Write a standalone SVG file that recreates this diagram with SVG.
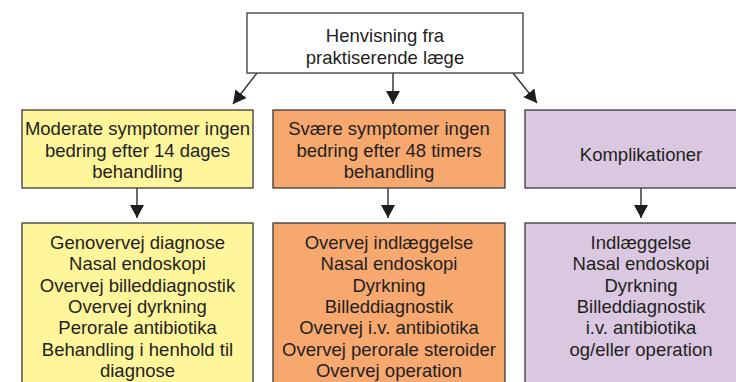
<svg xmlns="http://www.w3.org/2000/svg" width="736" height="382" viewBox="0 0 736 382">
  <style>
    .box { stroke: #3a3a3a; stroke-width: 1.3; }
    .white { fill: #ffffff; }
    .yellow { fill: #fff59b; }
    .orange { fill: #f7a86e; }
    .purple { fill: #d9c8e0; }
    text { font-family: "Liberation Sans", Arial, sans-serif; font-size: 18.5px; fill: #231f20; text-anchor: middle; }
    .conn { stroke: #3a3a3a; stroke-width: 1.5; fill: none; marker-end: url(#arrow); }
  </style>
  <defs>
    <marker id="arrow" markerUnits="userSpaceOnUse" markerWidth="15" markerHeight="15" refX="13" refY="7" orient="auto">
      <path d="M0,0 L13,7 L0,14 Z" fill="#1e1e1e"/>
    </marker>
  </defs>

  <rect width="736" height="382" fill="#ffffff"/>

  <!-- connectors -->
  <g id="connectors">
    <line class="conn" x1="257" y1="73" x2="233" y2="104"/>
    <line class="conn" x1="393" y1="73" x2="393" y2="104"/>
    <line class="conn" x1="513" y1="73" x2="537" y2="103"/>
    <line class="conn" x1="137" y1="188" x2="137" y2="218"/>
    <line class="conn" x1="388" y1="188" x2="388" y2="218"/>
    <line class="conn" x1="641" y1="188" x2="641" y2="218"/>
  </g>

  <!-- referral -->
  <g id="henvisning">
    <rect class="box white" x="247" y="13" width="276" height="60"/>
    <text x="385" y="42">Henvisning fra</text>
    <text x="385" y="64">praktiserende læge</text>
  </g>

  <!-- moderate symptoms -->
  <g id="moderate">
    <rect class="box yellow" x="22" y="110" width="231" height="78"/>
    <text x="137.5" y="135">Moderate symptomer ingen</text>
    <text x="137.5" y="157">bedring efter 14 dages</text>
    <text x="137.5" y="178">behandling</text>
  </g>

  <!-- severe symptoms -->
  <g id="svaere">
    <rect class="box orange" x="273" y="110" width="232" height="78"/>
    <text x="389" y="135">Svære symptomer ingen</text>
    <text x="389" y="157">bedring efter 48 timers</text>
    <text x="389" y="178">behandling</text>
  </g>

  <!-- complications -->
  <g id="komplikationer">
    <rect class="box purple" x="525" y="110" width="234" height="78"/>
    <text x="641" y="161">Komplikationer</text>
  </g>

  <!-- moderate actions -->
  <g id="moderate-tiltag">
    <rect class="box yellow" x="22" y="223" width="231" height="170"/>
    <text x="137.5" y="249">Genovervej diagnose</text>
    <text x="137.5" y="270.3">Nasal endoskopi</text>
    <text x="137.5" y="291.6">Overvej billeddiagnostik</text>
    <text x="137.5" y="312.9">Overvej dyrkning</text>
    <text x="137.5" y="334.2">Perorale antibiotika</text>
    <text x="137.5" y="355.5">Behandling i henhold til</text>
    <text x="137.5" y="376.8">diagnose</text>
  </g>

  <!-- severe actions -->
  <g id="svaere-tiltag">
    <rect class="box orange" x="273" y="223" width="232" height="170"/>
    <text x="389" y="249">Overvej indlæggelse</text>
    <text x="389" y="270.3">Nasal endoskopi</text>
    <text x="389" y="291.6">Dyrkning</text>
    <text x="389" y="312.9">Billeddiagnostik</text>
    <text x="389" y="334.2">Overvej i.v. antibiotika</text>
    <text x="389" y="355.5">Overvej perorale steroider</text>
    <text x="389" y="376.8">Overvej operation</text>
  </g>

  <!-- complication actions -->
  <g id="komplikationer-tiltag">
    <rect class="box purple" x="525" y="223" width="234" height="170"/>
    <text x="641" y="249">Indlæggelse</text>
    <text x="641" y="270.3">Nasal endoskopi</text>
    <text x="641" y="291.6">Dyrkning</text>
    <text x="641" y="312.9">Billeddiagnostik</text>
    <text x="641" y="334.2">i.v. antibiotika</text>
    <text x="641" y="355.5">og/eller operation</text>
  </g>
</svg>
